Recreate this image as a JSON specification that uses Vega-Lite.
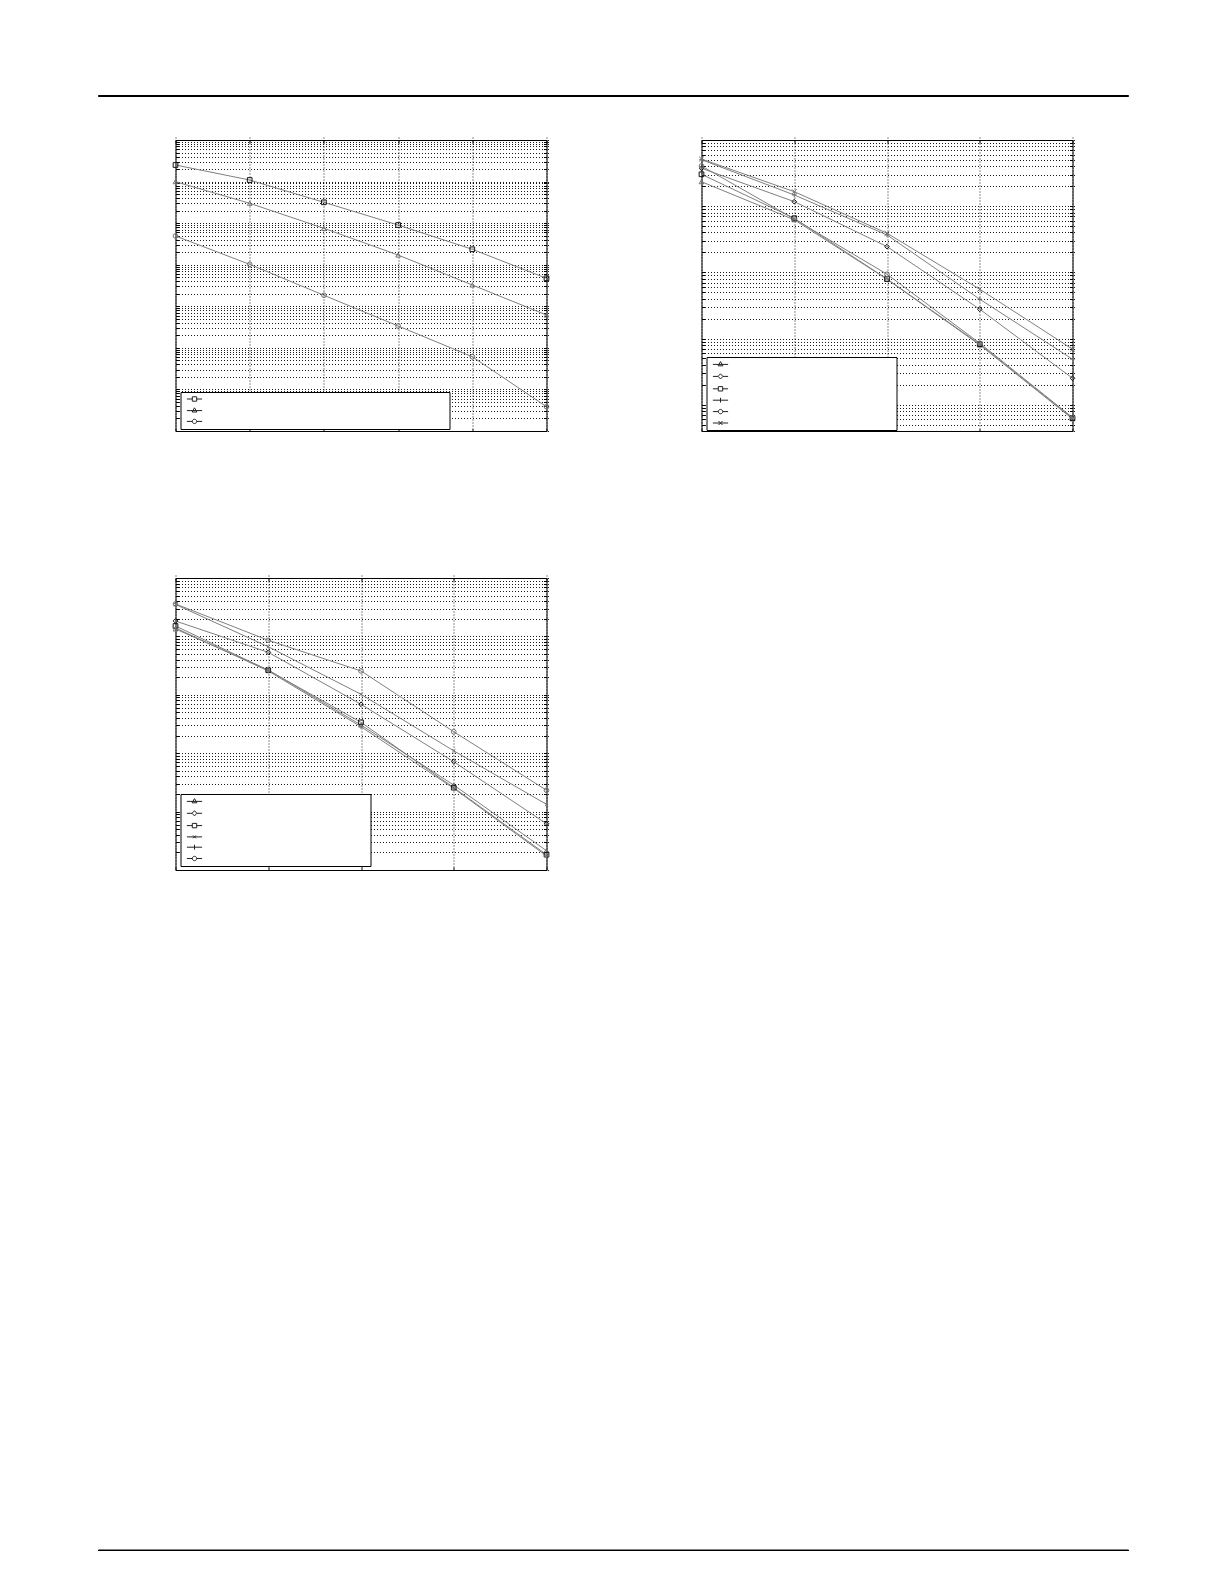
{
  "$schema": "https://vega.github.io/schema/vega-lite/v6.json",
  "description": "Three log-scale error-rate panels, MATLAB style, labels blank.",
  "background": "white",
  "padding": {"left": 97, "top": 94, "right": 0, "bottom": 0},
  "config": {
    "view": {"stroke": "#000", "strokeWidth": 1},
    "axis": {
      "labels": false,
      "domain": false,
      "grid": true,
      "gridColor": "#000",
      "gridDash": [1, 2],
      "gridOpacity": 0.9,
      "tickColor": "#000",
      "tickSize": 3,
      "offset": -3
    }
  },
  "datasets": {
    "p1": [
      {"x": 0, "y": 0.2505, "s": "square"},
      {"x": 1, "y": 0.109, "s": "square"},
      {"x": 2, "y": 0.0317, "s": "square"},
      {"x": 3, "y": 0.00902, "s": "square"},
      {"x": 4, "y": 0.00235, "s": "square"},
      {"x": 5, "y": 0.000471, "s": "square"},
      {"x": 0, "y": 0.0993, "s": "triangle"},
      {"x": 1, "y": 0.030, "s": "triangle"},
      {"x": 2, "y": 0.00751, "s": "triangle"},
      {"x": 3, "y": 0.00171, "s": "triangle"},
      {"x": 4, "y": 0.000325, "s": "triangle"},
      {"x": 5, "y": 0.0000617, "s": "triangle"},
      {"x": 0, "y": 0.00491, "s": "circle"},
      {"x": 1, "y": 0.00102, "s": "circle"},
      {"x": 2, "y": 0.000184, "s": "circle"},
      {"x": 3, "y": 0.0000336, "s": "circle"},
      {"x": 4, "y": 0.00000612, "s": "circle"},
      {"x": 5, "y": 0.000000384, "s": "circle"}
    ],
    "p2": [
      {"x": 0, "y": 0.234, "s": "triangle"},
      {"x": 1, "y": 0.0623, "s": "triangle"},
      {"x": 2, "y": 0.00787, "s": "triangle"},
      {"x": 3, "y": 0.0008, "s": "triangle"},
      {"x": 4, "y": 0.000061, "s": "triangle"},
      {"x": 0, "y": 0.374, "s": "diamond"},
      {"x": 1, "y": 0.117, "s": "diamond"},
      {"x": 2, "y": 0.0245, "s": "diamond"},
      {"x": 3, "y": 0.00277, "s": "diamond"},
      {"x": 4, "y": 0.000251, "s": "diamond"},
      {"x": 0, "y": 0.303, "s": "square"},
      {"x": 1, "y": 0.0657, "s": "square"},
      {"x": 2, "y": 0.00794, "s": "square"},
      {"x": 3, "y": 0.00082, "s": "square"},
      {"x": 4, "y": 0.0000625, "s": "square"},
      {"x": 0, "y": 0.504, "s": "plus"},
      {"x": 1, "y": 0.1476, "s": "plus"},
      {"x": 2, "y": 0.0367, "s": "plus"},
      {"x": 3, "y": 0.00393, "s": "plus"},
      {"x": 4, "y": 0.000487, "s": "plus"},
      {"x": 0, "y": 0.405, "s": "circle"},
      {"x": 1, "y": 0.0641, "s": "circle"},
      {"x": 2, "y": 0.00936, "s": "circle"},
      {"x": 3, "y": 0.00085, "s": "circle"},
      {"x": 4, "y": 0.000064, "s": "circle"},
      {"x": 0, "y": 0.516, "s": "x"},
      {"x": 1, "y": 0.1656, "s": "x"},
      {"x": 2, "y": 0.039, "s": "x"},
      {"x": 3, "y": 0.00555, "s": "x"},
      {"x": 4, "y": 0.000689, "s": "x"}
    ],
    "p3": [
      {"x": 0, "y": 0.134, "s": "triangle"},
      {"x": 1, "y": 0.0266, "s": "triangle"},
      {"x": 2, "y": 0.00304, "s": "triangle"},
      {"x": 3, "y": 0.000285, "s": "triangle"},
      {"x": 4, "y": 0.0000214, "s": "triangle"},
      {"x": 0, "y": 0.1836, "s": "diamond"},
      {"x": 1, "y": 0.0534, "s": "diamond"},
      {"x": 2, "y": 0.00688, "s": "diamond"},
      {"x": 3, "y": 0.000715, "s": "diamond"},
      {"x": 4, "y": 0.000062, "s": "diamond"},
      {"x": 0, "y": 0.1507, "s": "square"},
      {"x": 1, "y": 0.0263, "s": "square"},
      {"x": 2, "y": 0.00338, "s": "square"},
      {"x": 3, "y": 0.000257, "s": "square"},
      {"x": 4, "y": 0.0000183, "s": "square"},
      {"x": 0, "y": 0.352, "s": "x"},
      {"x": 1, "y": 0.0666, "s": "x"},
      {"x": 2, "y": 0.0102, "s": "x"},
      {"x": 3, "y": 0.0011, "s": "x"},
      {"x": 4, "y": 0.000133, "s": "x"},
      {"x": 0, "y": 0.139, "s": "plus"},
      {"x": 1, "y": 0.0256, "s": "plus"},
      {"x": 2, "y": 0.00284, "s": "plus"},
      {"x": 3, "y": 0.00025, "s": "plus"},
      {"x": 4, "y": 0.0000174, "s": "plus"},
      {"x": 0, "y": 0.359, "s": "circle"},
      {"x": 1, "y": 0.0858, "s": "circle"},
      {"x": 2, "y": 0.0256, "s": "circle"},
      {"x": 3, "y": 0.00233, "s": "circle"},
      {"x": 4, "y": 0.000232, "s": "circle"}
    ]
  },
  "spacing": 677.5,
  "vconcat": [
    {
      "spacing": 42,
      "vconcat": [
        {
          "width": 1030,
          "height": 1,
          "data": {"values": []},
          "mark": "point",
          "view": {"stroke": "#000", "strokeWidth": 1, "fill": "#000"}
        },
        {
          "spacing": 71.5,
          "hconcat": [
            {
              "width": 1,
              "height": 1,
              "data": {"values": []},
              "mark": "point",
              "view": {"stroke": null}
            },
            {
              "spacing": 145,
              "vconcat": [
                {
                  "spacing": 155,
                  "bounds": "flush",
                  "hconcat": [
                    {
                      "width": 371,
                      "height": 291,
                      "data": {"name": "p1"},
                      "layer": [
                        {
                          "mark": {"type": "line", "color": "#7f7f7f", "strokeWidth": 1},
                          "encoding": {
                            "x": {"field": "x", "type": "quantitative", "scale": {"domain": [0, 5], "nice": false, "zero": false},
                              "axis": {"orient": "bottom", "title": null, "values": [0, 1, 2, 3, 4, 5]}},
                            "y": {"field": "y", "type": "quantitative", "scale": {"type": "log", "domain": [1e-7, 1], "nice": false},
                              "axis": {"orient": "left", "title": null,
                                "values": [1e-7, 2e-7, 3e-7, 4e-7, 5e-7, 6e-7, 7e-7, 8e-7, 9e-7, 1e-6, 2e-6, 3e-6, 4e-6, 5e-6, 6e-6, 7e-6, 8e-6, 9e-6, 1e-5, 2e-5, 3e-5, 4e-5, 5e-5, 6e-5, 7e-5, 8e-5, 9e-5, 1e-4, 2e-4, 3e-4, 4e-4, 5e-4, 6e-4, 7e-4, 8e-4, 9e-4, 0.001, 0.002, 0.003, 0.004, 0.005, 0.006, 0.007, 0.008, 0.009, 0.01, 0.02, 0.03, 0.04, 0.05, 0.06, 0.07, 0.08, 0.09, 0.1, 0.2, 0.3, 0.4, 0.5, 0.6, 0.7, 0.8, 0.9, 1]}},
                            "detail": {"field": "s"}
                          }
                        },
                        {
                          "mark": {"type": "point", "filled": false, "size": 22, "strokeWidth": 1, "opacity": 1},
                          "encoding": {
                            "x": {"field": "x", "type": "quantitative", "scale": {"domain": [0, 5], "nice": false, "zero": false},
                              "axis": {"orient": "top", "title": null, "grid": false, "values": [0, 1, 2, 3, 4, 5]}},
                            "y": {"field": "y", "type": "quantitative", "scale": {"type": "log", "domain": [1e-7, 1], "nice": false},
                              "axis": {"orient": "right", "title": null, "grid": false,
                                "values": [1e-7, 2e-7, 3e-7, 4e-7, 5e-7, 6e-7, 7e-7, 8e-7, 9e-7, 1e-6, 2e-6, 3e-6, 4e-6, 5e-6, 6e-6, 7e-6, 8e-6, 9e-6, 1e-5, 2e-5, 3e-5, 4e-5, 5e-5, 6e-5, 7e-5, 8e-5, 9e-5, 1e-4, 2e-4, 3e-4, 4e-4, 5e-4, 6e-4, 7e-4, 8e-4, 9e-4, 0.001, 0.002, 0.003, 0.004, 0.005, 0.006, 0.007, 0.008, 0.009, 0.01, 0.02, 0.03, 0.04, 0.05, 0.06, 0.07, 0.08, 0.09, 0.1, 0.2, 0.3, 0.4, 0.5, 0.6, 0.7, 0.8, 0.9, 1]}},
                            "shape": {"field": "s", "type": "nominal", "legend": null,
                              "scale": {"domain": ["square", "triangle", "circle"], "range": ["square", "triangle-up", "circle"]}},
                            "color": {"field": "s", "type": "nominal", "legend": null,
                              "scale": {"domain": ["square", "triangle", "circle"], "range": ["#111111", "#707070", "#707070"]}}
                          }
                        },
                        {
                          "mark": {"type": "point", "filled": false, "opacity": 0, "size": 1},
                          "encoding": {
                            "x": {"field": "x", "type": "quantitative", "scale": {"domain": [0, 5], "nice": false, "zero": false}, "axis": null},
                            "y": {"field": "y", "type": "quantitative", "scale": {"type": "log", "domain": [1e-7, 1], "nice": false}, "axis": null},
                            "shape": {"field": "s", "type": "nominal",
                              "scale": {"domain": ["square", "triangle", "circle"],
                                "range": ["M-1.9,0H-0.55M0.55,0H1.9M-0.55,-0.55H0.55V0.55H-0.55Z", "M-1.9,0.1H1.9M0,-0.6L0.6,0.45H-0.6Z", "M-1.9,0H-0.55M0.55,0H1.9M-0.55,0A0.55,0.55,0,1,0,0.55,0A0.55,0.55,0,1,0,-0.55,0Z"]},
                              "legend": {"orient": "none", "legendX": 5, "legendY": 252, "title": null, "direction": "vertical",
                                "labelExpr": "''", "labelOffset": 248, "labelFontSize": 4,
                                "symbolSize": 64, "symbolOffset": 7, "symbolStrokeColor": "#222", "symbolFillColor": "transparent",
                                "symbolStrokeWidth": 1, "symbolOpacity": 1,
                                "padding": 2.5, "rowPadding": 2.2, "strokeColor": "#000", "fillColor": "#fff", "cornerRadius": 0}}
                          }
                        }
                      ],
                      "resolve": {"scale": {"shape": "independent"}, "axis": {"x": "independent", "y": "independent"}}
                    },
                    {
                      "width": 371,
                      "height": 291,
                      "data": {"name": "p2"},
                      "layer": [
                        {
                          "mark": {"type": "line", "color": "#7f7f7f", "strokeWidth": 1},
                          "encoding": {
                            "x": {"field": "x", "type": "quantitative", "scale": {"domain": [0, 4], "nice": false, "zero": false},
                              "axis": {"orient": "bottom", "title": null, "values": [0, 1, 2, 3, 4]}},
                            "y": {"field": "y", "type": "quantitative", "scale": {"type": "log", "domain": [4e-5, 1], "nice": false},
                              "axis": {"orient": "left", "title": null,
                                "values": [4e-5, 5e-5, 6e-5, 7e-5, 8e-5, 9e-5, 1e-4, 2e-4, 3e-4, 4e-4, 5e-4, 6e-4, 7e-4, 8e-4, 9e-4, 0.001, 0.002, 0.003, 0.004, 0.005, 0.006, 0.007, 0.008, 0.009, 0.01, 0.02, 0.03, 0.04, 0.05, 0.06, 0.07, 0.08, 0.09, 0.1, 0.2, 0.3, 0.4, 0.5, 0.6, 0.7, 0.8, 0.9, 1]}},
                            "detail": {"field": "s"}
                          }
                        },
                        {
                          "mark": {"type": "point", "filled": false, "size": 22, "strokeWidth": 1, "opacity": 1},
                          "encoding": {
                            "x": {"field": "x", "type": "quantitative", "scale": {"domain": [0, 4], "nice": false, "zero": false},
                              "axis": {"orient": "top", "title": null, "grid": false, "values": [0, 1, 2, 3, 4]}},
                            "y": {"field": "y", "type": "quantitative", "scale": {"type": "log", "domain": [4e-5, 1], "nice": false},
                              "axis": {"orient": "right", "title": null, "grid": false,
                                "values": [4e-5, 5e-5, 6e-5, 7e-5, 8e-5, 9e-5, 1e-4, 2e-4, 3e-4, 4e-4, 5e-4, 6e-4, 7e-4, 8e-4, 9e-4, 0.001, 0.002, 0.003, 0.004, 0.005, 0.006, 0.007, 0.008, 0.009, 0.01, 0.02, 0.03, 0.04, 0.05, 0.06, 0.07, 0.08, 0.09, 0.1, 0.2, 0.3, 0.4, 0.5, 0.6, 0.7, 0.8, 0.9, 1]}},
                            "shape": {"field": "s", "type": "nominal", "legend": null,
                              "scale": {"domain": ["triangle", "diamond", "square", "plus", "circle", "x"],
                                "range": ["triangle-up", "diamond", "square", "M-1,0H1M0,-1V1", "circle", "M-1,-1L1,1M1,-1L-1,1"]}},
                            "color": {"field": "s", "type": "nominal", "legend": null,
                              "scale": {"domain": ["triangle", "diamond", "square", "plus", "circle", "x"],
                                "range": ["#707070", "#707070", "#111111", "#111111", "#707070", "#707070"]}}
                          }
                        },
                        {
                          "mark": {"type": "point", "filled": false, "opacity": 0, "size": 1},
                          "encoding": {
                            "x": {"field": "x", "type": "quantitative", "scale": {"domain": [0, 4], "nice": false, "zero": false}, "axis": null},
                            "y": {"field": "y", "type": "quantitative", "scale": {"type": "log", "domain": [4e-5, 1], "nice": false}, "axis": null},
                            "shape": {"field": "s", "type": "nominal",
                              "scale": {"domain": ["triangle", "diamond", "square", "plus", "circle", "x"],
                                "range": ["M-1.9,0.1H1.9M0,-0.6L0.6,0.45H-0.6Z", "M-1.9,0H-0.6M0.6,0H1.9M0,-0.65L0.6,0L0,0.65L-0.6,0Z", "M-1.9,0H-0.55M0.55,0H1.9M-0.55,-0.55H0.55V0.55H-0.55Z", "M-1.9,0H1.9M0,-0.6V0.6", "M-1.9,0H-0.55M0.55,0H1.9M-0.55,0A0.55,0.55,0,1,0,0.55,0A0.55,0.55,0,1,0,-0.55,0Z", "M-1.9,0H1.9M-0.5,-0.5L0.5,0.5M0.5,-0.5L-0.5,0.5"]},
                              "legend": {"orient": "none", "legendX": 5, "legendY": 217, "title": null, "direction": "vertical",
                                "labelExpr": "''", "labelOffset": 169, "labelFontSize": 4,
                                "symbolSize": 64, "symbolOffset": 7, "symbolStrokeColor": "#222", "symbolFillColor": "transparent",
                                "symbolStrokeWidth": 1, "symbolOpacity": 1,
                                "padding": 2.5, "rowPadding": 2.4, "strokeColor": "#000", "fillColor": "#fff", "cornerRadius": 0}}
                          }
                        }
                      ],
                      "resolve": {"scale": {"shape": "independent"}, "axis": {"x": "independent", "y": "independent"}}
                    }
                  ]
                },
                {
                  "width": 371,
                  "height": 292,
                  "data": {"name": "p3"},
                  "layer": [
                    {
                      "mark": {"type": "line", "color": "#7f7f7f", "strokeWidth": 1},
                      "encoding": {
                        "x": {"field": "x", "type": "quantitative", "scale": {"domain": [0, 4], "nice": false, "zero": false},
                          "axis": {"orient": "bottom", "title": null, "values": [0, 1, 2, 3, 4]}},
                        "y": {"field": "y", "type": "quantitative", "scale": {"type": "log", "domain": [1e-5, 1], "nice": false},
                          "axis": {"orient": "left", "title": null,
                            "values": [1e-5, 2e-5, 3e-5, 4e-5, 5e-5, 6e-5, 7e-5, 8e-5, 9e-5, 1e-4, 2e-4, 3e-4, 4e-4, 5e-4, 6e-4, 7e-4, 8e-4, 9e-4, 0.001, 0.002, 0.003, 0.004, 0.005, 0.006, 0.007, 0.008, 0.009, 0.01, 0.02, 0.03, 0.04, 0.05, 0.06, 0.07, 0.08, 0.09, 0.1, 0.2, 0.3, 0.4, 0.5, 0.6, 0.7, 0.8, 0.9, 1]}},
                        "detail": {"field": "s"}
                      }
                    },
                    {
                      "mark": {"type": "point", "filled": false, "size": 22, "strokeWidth": 1, "opacity": 1},
                      "encoding": {
                        "x": {"field": "x", "type": "quantitative", "scale": {"domain": [0, 4], "nice": false, "zero": false},
                          "axis": {"orient": "top", "title": null, "grid": false, "values": [0, 1, 2, 3, 4]}},
                        "y": {"field": "y", "type": "quantitative", "scale": {"type": "log", "domain": [1e-5, 1], "nice": false},
                          "axis": {"orient": "right", "title": null, "grid": false,
                            "values": [1e-5, 2e-5, 3e-5, 4e-5, 5e-5, 6e-5, 7e-5, 8e-5, 9e-5, 1e-4, 2e-4, 3e-4, 4e-4, 5e-4, 6e-4, 7e-4, 8e-4, 9e-4, 0.001, 0.002, 0.003, 0.004, 0.005, 0.006, 0.007, 0.008, 0.009, 0.01, 0.02, 0.03, 0.04, 0.05, 0.06, 0.07, 0.08, 0.09, 0.1, 0.2, 0.3, 0.4, 0.5, 0.6, 0.7, 0.8, 0.9, 1]}},
                        "shape": {"field": "s", "type": "nominal", "legend": null,
                          "scale": {"domain": ["triangle", "diamond", "square", "x", "plus", "circle"],
                            "range": ["triangle-up", "diamond", "square", "M-0.7,-0.7L0.7,0.7M0.7,-0.7L-0.7,0.7", "M-1,0H1M0,-1V1", "circle"]}},
                        "color": {"field": "s", "type": "nominal", "legend": null,
                          "scale": {"domain": ["triangle", "diamond", "square", "x", "plus", "circle"],
                            "range": ["#707070", "#707070", "#111111", "#707070", "#111111", "#707070"]}}
                      }
                    },
                    {
                      "mark": {"type": "point", "filled": false, "opacity": 0, "size": 1},
                      "encoding": {
                        "x": {"field": "x", "type": "quantitative", "scale": {"domain": [0, 4], "nice": false, "zero": false}, "axis": null},
                        "y": {"field": "y", "type": "quantitative", "scale": {"type": "log", "domain": [1e-5, 1], "nice": false}, "axis": null},
                        "shape": {"field": "s", "type": "nominal",
                          "scale": {"domain": ["triangle", "diamond", "square", "x", "plus", "circle"],
                            "range": ["M-1.9,0.1H1.9M0,-0.6L0.6,0.45H-0.6Z", "M-1.9,0H-0.6M0.6,0H1.9M0,-0.65L0.6,0L0,0.65L-0.6,0Z", "M-1.9,0H-0.55M0.55,0H1.9M-0.55,-0.55H0.55V0.55H-0.55Z", "M-1.9,0H1.9M-0.35,-0.35L0.35,0.35M0.35,-0.35L-0.35,0.35", "M-1.9,0H1.9M0,-0.6V0.6", "M-1.9,0H-0.55M0.55,0H1.9M-0.55,0A0.55,0.55,0,1,0,0.55,0A0.55,0.55,0,1,0,-0.55,0Z"]},
                          "legend": {"orient": "none", "legendX": 5, "legendY": 216, "title": null, "direction": "vertical",
                            "labelExpr": "''", "labelOffset": 169, "labelFontSize": 4,
                            "symbolSize": 64, "symbolOffset": 7, "symbolStrokeColor": "#222", "symbolFillColor": "transparent",
                            "symbolStrokeWidth": 1, "symbolOpacity": 1,
                            "padding": 2.5, "rowPadding": 2.3, "strokeColor": "#000", "fillColor": "#fff", "cornerRadius": 0}}
                      }
                    }
                  ],
                  "resolve": {"scale": {"shape": "independent"}, "axis": {"x": "independent", "y": "independent"}}
                }
              ]
            }
          ]
        }
      ]
    },
    {
      "width": 1030,
      "height": 1,
      "data": {"values": []},
      "mark": "point",
      "view": {"stroke": "#000", "strokeWidth": 1, "fill": "#000"}
    }
  ]
}
